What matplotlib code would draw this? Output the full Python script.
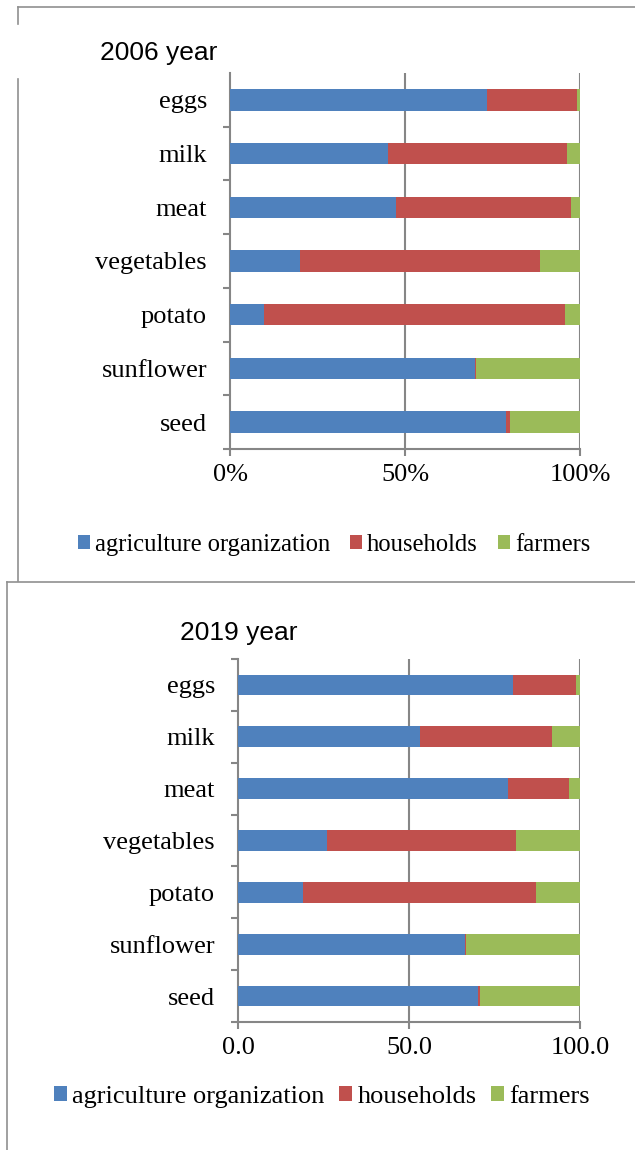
import matplotlib.pyplot as plt
import numpy as np
from matplotlib.lines import Line2D

plt.rcParams['font.family'] = ['Liberation Serif', 'DejaVu Serif']

# Shares of production by type of producer, %
products = ['seed', 'sunflower', 'potato', 'vegetables', 'meat', 'milk', 'eggs']
series = ['agriculture organization', 'households', 'farmers']

org_2006 = [78.8, 69.9, 9.6, 20.0, 47.4, 45.1, 73.5]
house_2006 = [1.1, 0.3, 86.2, 68.7, 50.1, 51.1, 25.7]
farm_2006 = [20.1, 29.8, 4.2, 11.3, 2.5, 3.8, 0.8]

org_2019 = [70.2, 66.3, 19.1, 26.1, 79.0, 53.1, 80.4]
house_2019 = [0.7, 0.5, 68.1, 55.1, 17.9, 38.6, 18.5]
farm_2019 = [29.1, 33.2, 12.8, 18.8, 3.1, 8.3, 1.1]

ticks_2006 = ['0%', '50%', '100%']
ticks_2019 = ['0.0', '50.0', '100.0']

colors = ['#4F81BD', '#C0504D', '#9BBB59']
grey = '#868686'
W, H = 635, 1150

fig = plt.figure(figsize=(W / 100, H / 100), dpi=100)


def fx(px):
    return px / W


def fy(py):
    return 1 - py / H


def draw_panel(rect, org, house, farm, labels, title, title_xy, top_tick, legend_xy, colspace, legsize):
    ax = fig.add_axes(rect)
    y = np.arange(len(products))
    left = np.zeros(len(products))
    for vals, col, name in zip([org, house, farm], colors, series):
        ax.barh(y, vals, left=left, height=0.4, color=col, label=name, zorder=3)
        left = left + np.array(vals)
    ax.set_xlim(0, 100)
    ax.set_ylim(-0.5, len(products) - 0.5)
    for xv in [50, 100]:
        ax.axvline(xv, color=grey, lw=1.5, zorder=1)
    for s in ['top', 'right']:
        ax.spines[s].set_visible(False)
    for s in ['left', 'bottom']:
        ax.spines[s].set_color(grey)
        ax.spines[s].set_linewidth(1.5)
    ax.set_xticks([0, 50, 100])
    ax.set_xticklabels(labels, fontsize=19)
    ax.set_yticks(y)
    ax.set_yticklabels(products, fontsize=19)
    bounds = np.arange(-0.5, len(products) - 0.5 + (1 if top_tick else 0), 1.0)
    ax.set_yticks(bounds, minor=True)
    ax.tick_params(axis='y', which='major', length=0, pad=16.5)
    ax.tick_params(axis='y', which='minor', length=5, width=1.5, color=grey)
    ax.tick_params(axis='x', which='major', length=5, width=1.5, color=grey, pad=6)
    fig.text(fx(title_xy[0]), fy(title_xy[1]), title, family='Liberation Sans',
             fontsize=19, ha='left', va='center')
    leg = fig.legend(*ax.get_legend_handles_labels(), loc='center',
                     bbox_to_anchor=(fx(legend_xy[0]), fy(legend_xy[1])), ncol=3,
                     frameon=False, fontsize=legsize,
                     handlelength=0.5, handleheight=0.5, handletextpad=0.2,
                     columnspacing=colspace, borderaxespad=0)
    for t in leg.get_texts():
        t.set_fontfamily(['Liberation Serif'])
    return ax


draw_panel([fx(230), fy(449), fx(580) - fx(230), fy(73) - fy(449)],
           org_2006, house_2006, farm_2006, ticks_2006, '2006 year', (100, 53),
           False, (334, 545), 0.8, 17.7)
draw_panel([fx(238), fy(1022), fx(580) - fx(238), fy(659) - fy(1022)],
           org_2019, house_2019, farm_2019, ticks_2019, '2019 year', (180, 633),
           True, (322, 1097), 0.55, 19)

# page frame lines around the two figures
frame = [((18, 635), (7, 7)), ((18, 18), (7, 24)), ((18, 18), (79, 581)),
         ((7, 635), (582, 582)), ((7, 7), (582, 1150))]
for xs, ys in frame:
    fig.add_artist(Line2D([fx(v) for v in xs], [fy(v) for v in ys],
                          color='#909090', lw=1.2, transform=fig.transFigure))

fig.savefig('out.png', dpi=100)
